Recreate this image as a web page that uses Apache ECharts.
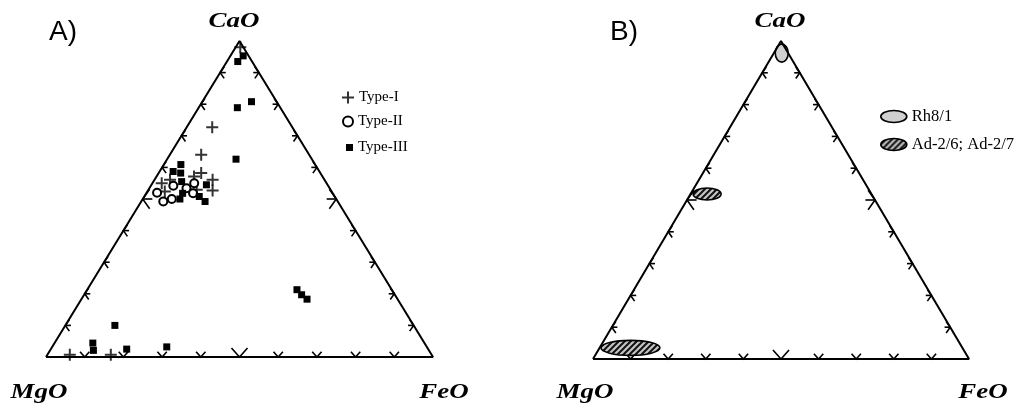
<!DOCTYPE html>
<html>
<head>
<meta charset="utf-8">
<script src="https://cdn.jsdelivr.net/npm/echarts@6/dist/echarts.min.js"></script>
<style>
html, body { margin: 0; padding: 0; background: #fff; }
#chart { width: 1033px; height: 407px; }
</style>
</head>
<body>
<div id="chart"></div>
<script>
// compositions as [CaO, MgO, FeO] in %
var typeI = [
	[98.0, 0.8, 1.2], [72.7, 20.7, 6.6], [64.0, 27.9, 8.1], [58.2, 30.8, 11.0],
	[57.1, 33.2, 9.7], [56.1, 28.9, 15.0], [52.7, 30.6, 16.7], [55.0, 42.6, 2.4],
	[56.1, 39.9, 4.0], [52.4, 43.1, 4.5], [52.9, 34.6, 12.5], [0.7, 93.5, 5.8],
	[0.7, 82.9, 16.4]
];
var typeII = [
	[52.0, 45.3, 2.7], [49.2, 45.1, 5.7], [50.0, 42.5, 7.5], [54.2, 40.0, 5.8],
	[53.4, 37.0, 9.6], [51.8, 36.1, 12.1], [55.0, 34.2, 10.8]
];
var typeIII = [
	[95.3, 1.4, 3.3], [93.5, 3.7, 2.8], [80.8, 6.5, 12.7], [78.9, 11.1, 10.0],
	[62.6, 19.6, 17.8], [60.9, 34.7, 4.4], [58.7, 37.8, 3.5], [58.2, 36.1, 5.7],
	[55.5, 37.2, 7.3], [54.5, 31.3, 14.2], [51.8, 38.8, 9.4], [50.0, 40.4, 9.6],
	[50.8, 35.0, 14.2], [49.2, 34.3, 16.5], [21.3, 24.5, 54.2], [19.7, 24.1, 56.2],
	[18.3, 23.4, 58.3], [10.0, 77.2, 12.8], [4.4, 85.7, 9.9], [2.1, 86.7, 11.2],
	[2.5, 77.9, 19.6], [3.2, 67.2, 29.6]
];
var rh81 = [[96.2, 1.7, 2.1]];
var adSamples = [[51.9, 43.7, 4.4], [3.5, 88.3, 8.2]];
var tickSteps = [10, 20, 30, 40, 50, 60, 70, 80, 90];
var corners = [[100, 0, 0], [0, 100, 0], [0, 0, 100]];

// ellipse radii for the field areas in B (px)
var rhSize = [[6.5, 9]];
var adSize = [[14, 6], [29.5, 7.5]];

// ternary -> cartesian, MgO bottom left, FeO bottom right, CaO on top
function toXY(t) {
	var s = t[0] + t[1] + t[2];
	var ca = t[0] / s * 100, fe = t[2] / s * 100;
	return [fe + ca / 2, ca];
}

function outline() {
	return [corners[1], corners[2], corners[0], corners[1]].map(toXY);
}

function tickData() {
	var out = [];
	tickSteps.forEach(function(s) {
		out.push(toXY([s, 100 - s, 0]).concat([0, s])); //左边
		out.push(toXY([100 - s, 0, s]).concat([1, s])); //右边
		out.push(toXY([0, 100 - s, s]).concat([2, s])); //底边
	});
	return out;
}

var tickDir = [[-1, 0], [1, 0], [0, 1]];
var tickSpread = [55, 55, 42];

function renderTick(params, api) {
	var p = api.coord([api.value(0), api.value(1)]);
	var edge = api.value(2);
	var big = api.value(3) === 50;
	var len = big ? 12 : 7;
	var bx = -tickDir[edge][0], by = -tickDir[edge][1];
	var a = tickSpread[edge] * Math.PI / 180;
	function arm(ang) {
		var c = Math.cos(ang), s = Math.sin(ang);
		return [p[0] + (bx * c - by * s) * len, p[1] + (bx * s + by * c) * len];
	}
	var kids = [{
		type: 'polyline',
		shape: { points: [arm(a), p, arm(-a)] },
		style: { stroke: '#000', lineWidth: 1.6, fill: null }
	}];
	if (edge !== 2) {
		kids.push({
			type: 'line',
			shape: { x1: p[0], y1: p[1], x2: p[0] + bx * len * 0.8, y2: p[1] + by * len * 0.8 },
			style: { stroke: '#000', lineWidth: 1.6 }
		});
	}
	return { type: 'group', children: kids };
}

function makeHatch() {
	var c = document.createElement('canvas');
	c.width = 6; c.height = 6;
	var g = c.getContext('2d');
	g.fillStyle = '#c4c4c4';
	g.fillRect(0, 0, 6, 6);
	g.strokeStyle = '#111';
	g.lineWidth = 2;
	g.beginPath();
	g.moveTo(-1, 7); g.lineTo(7, -1);
	g.moveTo(-4, 4); g.lineTo(4, -4);
	g.moveTo(2, 10); g.lineTo(10, 2);
	g.stroke();
	return { image: c, repeat: 'repeat' };
}
var hatch = makeHatch();

function ellipseRenderer(sizes, fill) {
	return function(params, api) {
		var p = api.coord([api.value(0), api.value(1)]);
		var r = sizes[params.dataIndex];
		return {
			type: 'ellipse',
			shape: { cx: p[0], cy: p[1], rx: r[0], ry: r[1] },
			style: { fill: fill, stroke: '#000', lineWidth: 1.6 }
		};
	};
}

var plusPath = 'path://M5,0h2v5h5v2h-5v5h-2v-5h-5v-2h5z';
var ellipsePath = 'path://M0,6A13,6,0,1,1,26,6A13,6,0,1,1,0,6Z';
var serif = '"Liberation Serif", "Times New Roman", serif';
var legendText = { fontFamily: serif, fontSize: 15, color: '#000' };
var legendTextB = { fontFamily: serif, fontSize: 16.5, color: '#000' };

function axes(n) {
	var xs = [], ys = [];
	for (var i = 0; i < n; i++) {
		xs.push({ type: 'value', gridIndex: i, min: 0, max: 100, show: false });
		ys.push({ type: 'value', gridIndex: i, min: 0, max: 100, show: false });
	}
	return { x: xs, y: ys };
}
var ax = axes(2);

function vertexLabel(text, x, y) {
	return {
		type: 'text', x: x, y: y, scaleX: 1.28,
		style: {
			text: text, fill: '#000', font: 'italic bold 21px ' + serif,
			textAlign: 'center', align: 'center', textVerticalAlign: 'middle', verticalAlign: 'middle'
		}
	};
}
function panelLabel(text, x, y) {
	return {
		type: 'text', x: x, y: y,
		style: { text: text, fill: '#000', font: '28px "Liberation Sans", Arial, sans-serif', textVerticalAlign: 'middle', verticalAlign: 'middle' }
	};
}

var option = {
	animation: false,
	backgroundColor: '#fff',
	grid: [
		{ left: 46, top: 41, width: 387, height: 316 },
		{ left: 593, top: 41, width: 376, height: 318 }
	],
	xAxis: ax.x,
	yAxis: ax.y,
	legend: [
		{ data: ['Type-I'], left: 342, top: 90, padding: 0, itemWidth: 12, itemHeight: 12, textStyle: legendText, selectedMode: false },
		{ data: ['Type-II'], left: 342, top: 114, padding: 0, itemWidth: 10, itemHeight: 10, textStyle: legendText, selectedMode: false },
		{ data: ['Type-III'], left: 346, top: 140, padding: 0, itemWidth: 7, itemHeight: 7, textStyle: legendText, selectedMode: false },
		{ data: [{ name: 'Rh8/1', icon: ellipsePath, itemStyle: { color: '#d0d0d0', borderColor: '#000', borderWidth: 1.6 } }],
			left: 880, top: 108, padding: 0, itemWidth: 26, itemHeight: 12, textStyle: legendTextB, selectedMode: false },
		{ data: [{ name: 'Ad-2/6; Ad-2/7', icon: ellipsePath, itemStyle: { color: hatch, borderColor: '#000', borderWidth: 1.6 } }],
			left: 880, top: 136, padding: 0, itemWidth: 26, itemHeight: 12, textStyle: legendTextB, selectedMode: false }
	],
	graphic: [
		panelLabel('A)', 49, 32),
		panelLabel('B)', 610, 32),
		vertexLabel('CaO', 234, 22),
		vertexLabel('MgO', 39, 393),
		vertexLabel('FeO', 444, 393),
		vertexLabel('CaO', 780, 22),
		vertexLabel('MgO', 585, 393),
		vertexLabel('FeO', 983, 393)
	],
	series: [
		{ type: 'line', xAxisIndex: 0, yAxisIndex: 0, data: outline(), symbol: 'none', silent: true,
			lineStyle: { color: '#000', width: 2 } },
		{ type: 'custom', xAxisIndex: 0, yAxisIndex: 0, data: tickData(), renderItem: renderTick, silent: true },
		{ name: 'Type-I', type: 'scatter', xAxisIndex: 0, yAxisIndex: 0, data: typeI.map(toXY),
			symbol: plusPath, symbolSize: 12, itemStyle: { color: '#000' } },
		{ name: 'Type-II', type: 'scatter', xAxisIndex: 0, yAxisIndex: 0, data: typeII.map(toXY),
			symbol: 'circle', symbolSize: 8, itemStyle: { color: '#fff', borderColor: '#000', borderWidth: 2, opacity: 1 } },
		{ name: 'Type-III', type: 'scatter', xAxisIndex: 0, yAxisIndex: 0, data: typeIII.map(toXY),
			symbol: 'rect', symbolSize: 7, itemStyle: { color: '#000', opacity: 1 } },

		{ type: 'line', xAxisIndex: 1, yAxisIndex: 1, data: outline(), symbol: 'none', silent: true,
			lineStyle: { color: '#000', width: 2 } },
		{ type: 'custom', xAxisIndex: 1, yAxisIndex: 1, data: tickData(), renderItem: renderTick, silent: true },
		{ name: 'Rh8/1', type: 'custom', xAxisIndex: 1, yAxisIndex: 1, data: rh81.map(toXY),
			renderItem: ellipseRenderer(rhSize, '#d0d0d0'), itemStyle: { color: '#d0d0d0' } },
		{ name: 'Ad-2/6; Ad-2/7', type: 'custom', xAxisIndex: 1, yAxisIndex: 1, data: adSamples.map(toXY),
			renderItem: ellipseRenderer(adSize, hatch), itemStyle: { color: '#888' } }
	]
};

var chart = echarts.init(document.getElementById('chart'));
chart.setOption(option);
</script>
</body>
</html>
